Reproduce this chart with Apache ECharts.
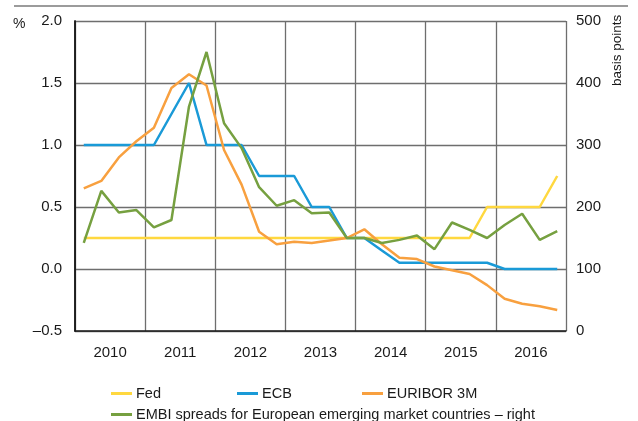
<!DOCTYPE html>
<html>
<head>
<meta charset="utf-8">
<script src="https://cdn.jsdelivr.net/npm/echarts@6/dist/echarts.min.js"></script>
<style>
  html, body { margin: 0; padding: 0; background: #fff; }
  #chart { width: 638px; height: 421px; }
</style>
</head>
<body>
<div id="chart"></div>
<script>
// quarterly observations, 2010 Q1 .. 2016 Q4
const years = ['2010', '2011', '2012', '2013', '2014', '2015', '2016']

const fed = [0.25, 0.25, 0.25, 0.25, 0.25, 0.25, 0.25, 0.25, 0.25, 0.25, 0.25, 0.25, 0.25, 0.25,
  0.25, 0.25, 0.25, 0.25, 0.25, 0.25, 0.25, 0.25, 0.25, 0.5, 0.5, 0.5, 0.5, 0.75]
const ecb = [1, 1, 1, 1, 1, 1.25, 1.5, 1, 1, 1, 0.75, 0.75, 0.75, 0.5,
  0.5, 0.25, 0.25, 0.15, 0.05, 0.05, 0.05, 0.05, 0.05, 0.05, 0, 0, 0, 0]
const euribor = [0.65, 0.71, 0.9, 1.03, 1.14, 1.46, 1.57, 1.48, 0.96, 0.68, 0.3, 0.2, 0.22, 0.21,
  0.23, 0.25, 0.32, 0.2, 0.09, 0.08, 0.02, -0.01, -0.04, -0.13, -0.24, -0.28, -0.3, -0.33]
// basis points, right axis
const embi = [142, 226, 191, 195, 167, 179, 362, 450, 335, 295, 232, 202, 211, 190,
  191, 150, 150, 142, 147, 154, 132, 175, 163, 150, 171, 189, 147, 161]

const FONT = '"Liberation Sans Narrow", "Liberation Sans", Arial, sans-serif'
const TEXT_COLOR = '#1a1a1a'
const GRID_COLOR = '#6e6e6e'

const toPoints = (arr) => arr.map((v, i) => [i + 0.5, v])

const lineSeries = (name, data, color, yAxisIndex = 0) => ({
  name,
  type: 'line',
  data: toPoints(data),
  yAxisIndex,
  symbol: 'none',
  lineStyle: { color, width: 2.5 },
  itemStyle: { color },
  animation: false,
})

const legendAt = (name, left, top) => ({
  data: [name],
  left,
  top,
  icon: 'rect',
  itemWidth: 21,
  itemHeight: 3,
  itemGap: 0,
  padding: 0,
  textStyle: { fontFamily: FONT, fontSize: 14.5, color: TEXT_COLOR, padding: [0, 0, 0, -1] },
  selectedMode: false,
})

const chart = echarts.init(document.getElementById('chart'))

chart.setOption({
  backgroundColor: '#fff',
  textStyle: { fontFamily: FONT },
  grid: { left: 75, right: 72, top: 21, bottom: 90 },
  legend: [
    legendAt('Fed', 111, 386),
    legendAt('ECB', 237, 386),
    legendAt('EURIBOR 3M', 362, 386),
    legendAt('EMBI spreads for European emerging market countries – right', 111, 407),
  ],
  xAxis: [
    {
      type: 'value',
      min: 0,
      max: 28,
      interval: 4,
      axisLine: { show: true, onZero: false, lineStyle: { color: TEXT_COLOR, width: 1.5 } },
      axisTick: { show: false },
      axisLabel: { show: false },
      splitLine: { show: true, lineStyle: { color: GRID_COLOR, width: 1.3 } },
    },
    {
      type: 'category',
      data: years,
      position: 'bottom',
      boundaryGap: true,
      axisLine: { show: false },
      axisTick: { show: false },
      splitLine: { show: false },
      axisLabel: { margin: 14, fontFamily: FONT, fontSize: 15, color: TEXT_COLOR },
    },
  ],
  yAxis: [
    {
      type: 'value',
      min: -0.5,
      max: 2,
      interval: 0.5,
      axisLine: { show: true, onZero: false, lineStyle: { color: TEXT_COLOR, width: 1.5 } },
      axisTick: { show: false },
      axisLabel: {
        margin: 13,
        fontFamily: FONT,
        fontSize: 15,
        color: TEXT_COLOR,
        formatter: (v) => (v < 0 ? '–' + Math.abs(v).toFixed(1) : v.toFixed(1)),
      },
      splitLine: { show: true, lineStyle: { color: GRID_COLOR, width: 1.3 } },
    },
    {
      type: 'value',
      min: 0,
      max: 500,
      interval: 100,
      position: 'right',
      axisLine: { show: true, lineStyle: { color: TEXT_COLOR, width: 1.5 } },
      axisTick: { show: false },
      axisLabel: { margin: 10, fontFamily: FONT, fontSize: 15, color: TEXT_COLOR },
      splitLine: { show: false },
    },
  ],
  graphic: [
    {
      type: 'line',
      shape: { x1: 14, y1: 6, x2: 628, y2: 6 },
      style: { stroke: '#7a7a7a', lineWidth: 1.5 },
    },
    {
      type: 'text',
      left: 13,
      top: 17,
      style: { text: '%', fontFamily: FONT, fontSize: 14, fill: TEXT_COLOR },
    },
    {
      type: 'text',
      x: 610,
      y: 86,
      rotation: Math.PI / 2,
      style: { text: 'basis points', fontFamily: FONT, fontSize: 13.5, fill: TEXT_COLOR, textVerticalAlign: 'top' },
    },
  ],
  series: [
    lineSeries('Fed', fed, '#ffd83f'),
    lineSeries('ECB', ecb, '#1a9ad7'),
    lineSeries('EURIBOR 3M', euribor, '#f8a03f'),
    lineSeries('EMBI spreads for European emerging market countries – right', embi, '#76a040', 1),
  ],
})
</script>
</body>
</html>
